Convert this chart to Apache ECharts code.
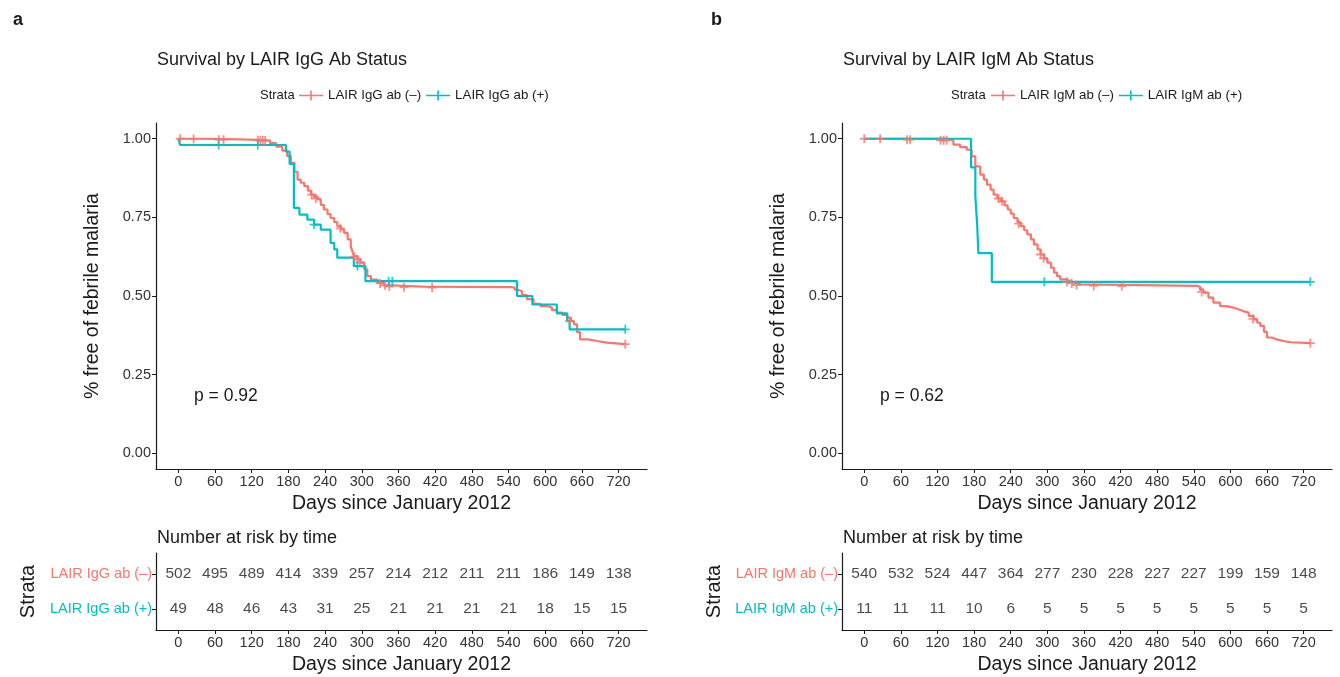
<!DOCTYPE html>
<html><head><meta charset="utf-8">
<script src="https://cdn.jsdelivr.net/npm/echarts@6/dist/echarts.min.js"></script>
<style>html,body{margin:0;padding:0;background:#fff}#c{width:1340px;height:677px}</style>
</head><body><div id="c"></div>
<script>
// ---------- data ----------
const dayTicks = [0,60,120,180,240,300,360,420,480,540,600,660,720];
const survTicks = [0,0.25,0.5,0.75,1];

const namesA = ['LAIR IgG ab (–)','LAIR IgG ab (+)'];
const namesB = ['LAIR IgM ab (–)','LAIR IgM ab (+)'];

const riskIgGneg = [502,495,489,414,339,257,214,212,211,211,186,149,138];
const riskIgGpos = [49,48,46,43,31,25,21,21,21,21,18,15,15];
const riskIgMneg = [540,532,524,447,364,277,230,228,227,227,199,159,148];
const riskIgMpos = [11,11,11,10,6,5,5,5,5,5,5,5,5];

const curveIgGneg = [[0,1.0],[40,0.998],[100,0.996],[140,0.994],[150,0.986],[160,0.975],[170,0.962],[178,0.945],[184,0.923],[190,0.895],[195,0.87],[200,0.86],[206,0.849],[212,0.835],[217,0.822],[222,0.815],[228,0.807],[233,0.79],[238,0.775],[244,0.76],[249,0.748],[255,0.735],[260,0.722],[266,0.712],[271,0.701],[277,0.68],[282,0.658],[285,0.64],[287,0.627],[293,0.616],[298,0.606],[304,0.585],[309,0.563],[315,0.552],[326,0.542],[336,0.534],[347,0.53],[400,0.528],[543,0.527],[550,0.52],[554,0.516],[562,0.503],[570,0.49],[581,0.475],[592,0.468],[603,0.463],[611,0.455],[619,0.447],[628,0.44],[636,0.431],[642,0.42],[647,0.41],[652,0.385],[657,0.362],[670,0.357],[685,0.352],[701,0.347],[731,0.347]];
const curveIgGpos = [[0,1.0],[3,0.98],[176,0.959],[182,0.92],[189,0.78],[198,0.759],[211,0.743],[222,0.727],[233,0.711],[249,0.669],[255,0.648],[260,0.622],[287,0.595],[306,0.547],[554,0.50],[579,0.473],[619,0.445],[636,0.42],[640,0.394],[731,0.394]];
const curveIgMneg = [[0,1.0],[135,0.995],[146,0.981],[157,0.973],[168,0.965],[176,0.944],[182,0.912],[190,0.886],[196,0.87],[201,0.854],[207,0.838],[212,0.822],[218,0.81],[224,0.801],[230,0.788],[235,0.775],[240,0.762],[245,0.748],[251,0.735],[256,0.722],[262,0.709],[267,0.696],[273,0.68],[278,0.664],[284,0.648],[289,0.632],[295,0.619],[300,0.606],[306,0.59],[311,0.574],[316,0.563],[321,0.553],[330,0.547],[338,0.542],[346,0.537],[354,0.532],[545,0.53],[550,0.52],[556,0.511],[564,0.495],[572,0.479],[583,0.468],[594,0.463],[605,0.458],[613,0.452],[621,0.447],[630,0.437],[638,0.426],[644,0.415],[649,0.405],[655,0.386],[660,0.368],[668,0.362],[676,0.357],[687,0.353],[698,0.35],[731,0.35]];
const curveIgMpos = [[0,1.0],[175,0.909],[182,0.818],[185,0.727],[187,0.636],[209,0.545],[731,0.545]];

const censIgGneg = [[3,1.0],[25,0.999],[66,0.997],[74,0.997],[130,0.995],[134,0.995],[138,0.995],[142,0.994],[218,0.822],[225,0.81],[265,0.715],[288,0.625],[293,0.616],[297,0.607],[330,0.54],[338,0.534],[345,0.53],[369,0.528],[415,0.527],[640,0.42],[731,0.347]];
const censIgGpos = [[66,0.98],[130,0.98],[222,0.727],[293,0.595],[344,0.547],[350,0.547],[731,0.394]];
const censIgMneg = [[0,1.0],[26,1.0],[70,0.997],[75,0.997],[125,0.995],[130,0.995],[135,0.995],[220,0.81],[226,0.801],[253,0.73],[289,0.632],[294,0.62],[332,0.545],[340,0.54],[348,0.535],[376,0.532],[422,0.531],[553,0.513],[637,0.427],[731,0.35]];
const censIgMpos = [[295,0.545],[731,0.545]];

const pA = 'p = 0.92', pB = 'p = 0.62';

// ---------- style ----------
const RED = '#F8766D', TEAL = '#00BFC4', INK = '#1a1a1a';
const FONT = 'Liberation Sans, Arial, Helvetica, sans-serif';
const plusPath = 'path://M4,0 H6 V4 H10 V6 H6 V10 H4 V6 H0 V4 H4 Z';
const legendIcon = 'path://M0,4.2 H24 V5.8 H0 Z M11.2,0 H12.8 V10 H11.2 Z';
const X0 = 156, DX = 686;

function kmX(gi, table) {
  return {
    gridIndex: gi, type: 'value', min: -36.5, max: 766.5,
    axisLine: {show: true, onZero: false, lineStyle: {color: INK, width: 1.2}},
    axisTick: {show: true, length: 4, customValues: dayTicks, lineStyle: {color: INK}},
    axisLabel: {customValues: dayTicks, margin: 5, fontSize: 14.5, color: '#333', fontFamily: FONT},
    splitLine: {show: false},
    name: 'Days since January 2012', nameLocation: 'middle', nameGap: table ? 25 : 25,
    nameTextStyle: {fontSize: 19.5, color: INK, fontFamily: FONT}
  };
}
function kmY(gi) {
  return {
    gridIndex: gi, type: 'value', min: -0.05, max: 1.05,
    axisLine: {show: true, onZero: false, lineStyle: {color: INK, width: 1.2}},
    axisTick: {show: true, length: 4, customValues: survTicks, lineStyle: {color: INK}},
    axisLabel: {customValues: survTicks, margin: 5, fontSize: 14.5, color: '#333', fontFamily: FONT,
      formatter: v => Number(v).toFixed(2)},
    splitLine: {show: false},
    name: '% free of febrile malaria', nameLocation: 'middle', nameGap: 53, nameRotate: 90,
    nameTextStyle: {fontSize: 19.5, color: INK, fontFamily: FONT}
  };
}
function tabY(gi, names) {
  return {
    gridIndex: gi, type: 'value', min: 0.4, max: 2.6,
    axisLine: {show: true, onZero: false, lineStyle: {color: INK, width: 1.2}},
    axisTick: {show: true, length: 4, customValues: [1, 2], lineStyle: {color: INK}},
    axisLabel: {customValues: [1, 2], margin: 4, fontFamily: FONT,
      formatter: v => v === 2 ? '{r|' + names[0] + '}' : '{t|' + names[1] + '}',
      rich: {r: {color: RED, fontSize: 14.5, fontFamily: FONT}, t: {color: TEAL, fontSize: 14.5, fontFamily: FONT}}},
    splitLine: {show: false},
    name: 'Strata', nameLocation: 'middle', nameGap: 118, nameRotate: 90,
    nameTextStyle: {fontSize: 20, color: INK, fontFamily: FONT}
  };
}
function line(name, data, color, xi) {
  return {type: 'line', name, data, step: 'end', xAxisIndex: xi, yAxisIndex: xi,
    showSymbol: false, symbol: 'none', lineStyle: {color, width: 2.2}, itemStyle: {color}, z: 3};
}
function cens(data, color, xi) {
  return {type: 'scatter', data, xAxisIndex: xi, yAxisIndex: xi, symbol: plusPath, symbolSize: 9,
    itemStyle: {color}, z: 4, silent: true};
}
function risk(counts, row, xi) {
  return {type: 'scatter', xAxisIndex: xi, yAxisIndex: xi, symbolSize: 0, silent: true,
    data: counts.map((v, i) => [dayTicks[i], row, v]),
    label: {show: true, position: 'inside', formatter: p => p.value[2], fontSize: 15.5, color: INK, fontFamily: FONT}};
}
const t = (text, left, top, size, weight) => ({text, left, top,
  textStyle: {fontSize: size, fontWeight: weight || 'normal', color: INK, fontFamily: FONT}});

const option = {
  animation: false,
  backgroundColor: '#fff',
  title: [
    t('a', 8, 6, 18, 'bold'), t('b', 706, 6, 18, 'bold'),
    t('Survival by LAIR IgG Ab Status', X0 - 4, 46, 18),
    t('Survival by LAIR IgM Ab Status', X0 + DX - 4, 46, 18),
    t('Strata', 255, 84, 13), t('Strata', 946, 84, 13),
    t('Number at risk by time', X0 - 4, 524, 18),
    t('Number at risk by time', X0 + DX - 4, 524, 18),
    t(pA, 189, 382, 17.5), t(pB, 875, 382, 17.5)
  ],
  legend: [
    {data: namesA, left: 294, top: 84, icon: legendIcon, itemWidth: 24, itemHeight: 10, itemGap: 5,
      selectedMode: false, textStyle: {fontSize: 13.3, color: INK, fontFamily: FONT}},
    {data: namesB, left: 986, top: 84, icon: legendIcon, itemWidth: 24, itemHeight: 10, itemGap: 5,
      selectedMode: false, textStyle: {fontSize: 13.3, color: INK, fontFamily: FONT}}
  ],
  grid: [
    {left: X0, top: 123, width: 491, height: 346},
    {left: X0, top: 553, width: 491, height: 77},
    {left: X0 + DX, top: 123, width: 490, height: 346},
    {left: X0 + DX, top: 553, width: 490, height: 77}
  ],
  xAxis: [kmX(0), kmX(1, true), kmX(2), kmX(3, true)],
  yAxis: [kmY(0), tabY(1, namesA), kmY(2), tabY(3, namesB)],
  series: [
    line(namesA[0], curveIgGneg, RED, 0), line(namesA[1], curveIgGpos, TEAL, 0),
    cens(censIgGneg, RED, 0), cens(censIgGpos, TEAL, 0),
    risk(riskIgGneg, 2, 1), risk(riskIgGpos, 1, 1),
    line(namesB[0], curveIgMneg, RED, 2), line(namesB[1], curveIgMpos, TEAL, 2),
    cens(censIgMneg, RED, 2), cens(censIgMpos, TEAL, 2),
    risk(riskIgMneg, 2, 3), risk(riskIgMpos, 1, 3)
  ]
};
const chart = echarts.init(document.getElementById('c'), null, {renderer: 'canvas'});
chart.setOption(option);
</script></body></html>
